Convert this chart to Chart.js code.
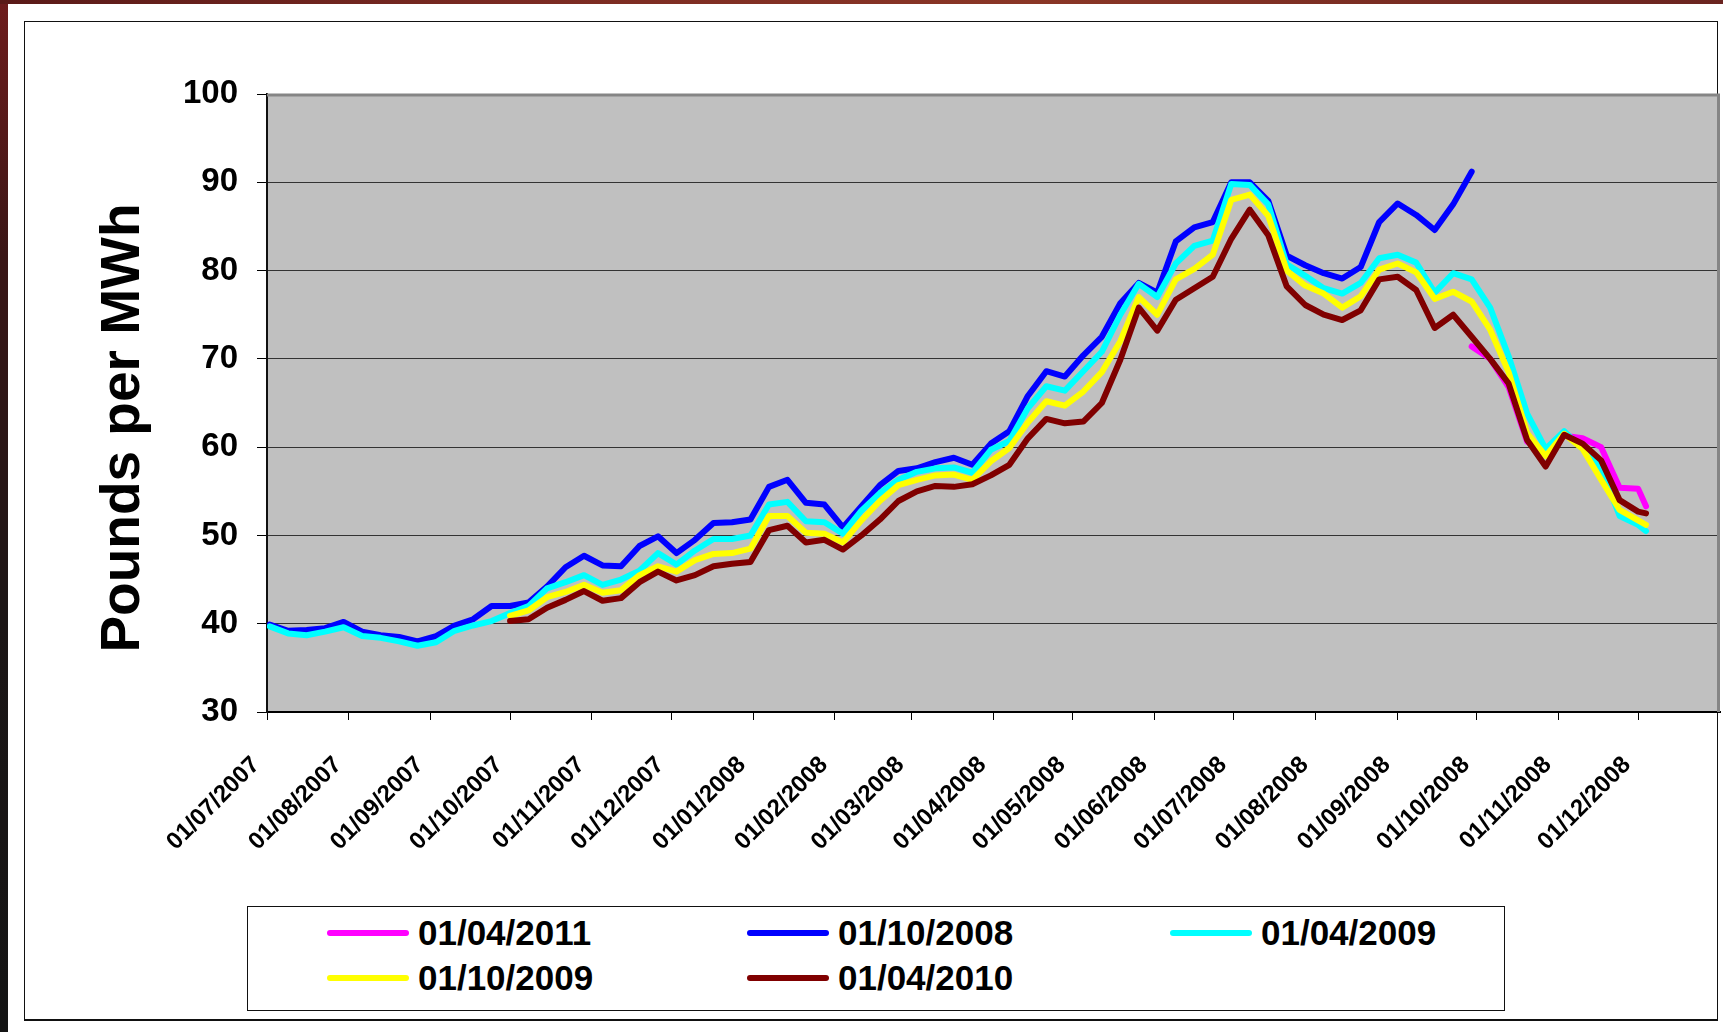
<!DOCTYPE html>
<html>
<head>
<meta charset="utf-8">
<script src="https://cdn.jsdelivr.net/npm/chart.js@4.4.1/dist/chart.umd.min.js"></script>
<style>
  html, body { margin: 0; padding: 0; }
  body {
    width: 1723px; height: 1032px; overflow: hidden; position: relative;
    background: linear-gradient(180deg, #6e1c1c 0%, #3a1616 25%, #1c1616 60%, #141414 100%);
    font-family: "Liberation Sans", Arial, sans-serif;
  }
  #topstrip { position: absolute; left: 0; top: 0; width: 1723px; height: 4px;
    background: linear-gradient(90deg, #5a1a18 0%, #7a2a22 30%, #8a3626 60%, #6a2420 100%); }
  #page { position: absolute; left: 8px; top: 4px; right: 0; bottom: 0; background: #fff; }
  #frame { position: absolute; left: 24px; top: 21px; width: 1692px; height: 997px;
    border: 1px solid #111; border-bottom: 2px solid #111; }
  #chart { position: absolute; left: 0; top: 0; }
  #legend { position: absolute; left: 247px; top: 906px; width: 1258px; height: 105px;
    border: 1px solid #111; background: #fff; box-sizing: border-box;
    display: grid; grid-template-columns: 420px 423px auto; grid-auto-rows: 45px;
    padding: 3px 0 0 79px; }
  .item { display: flex; align-items: center; font-weight: bold; font-size: 35px; color: #000; }
  .swatch { width: 82px; height: 6px; border-radius: 3px; margin-right: 9px; }
</style>
</head>
<body>
<div id="topstrip"></div>
<div id="page"></div>
<div id="frame"></div>
<canvas id="chart" width="1723" height="1032"></canvas>
<div id="legend"></div>
<script>
// trading dates (weekly samples)
const tradeDates = [
  '2007-07-02','2007-07-09','2007-07-16','2007-07-23','2007-07-30','2007-08-06','2007-08-13','2007-08-20',
  '2007-08-27','2007-09-03','2007-09-10','2007-09-17','2007-09-24','2007-10-01','2007-10-08','2007-10-15',
  '2007-10-22','2007-10-29','2007-11-05','2007-11-12','2007-11-19','2007-11-26','2007-12-03','2007-12-10',
  '2007-12-17','2007-12-24','2007-12-31','2008-01-07','2008-01-14','2008-01-21','2008-01-28','2008-02-04',
  '2008-02-11','2008-02-18','2008-02-25','2008-03-03','2008-03-10','2008-03-17','2008-03-24','2008-03-31',
  '2008-04-07','2008-04-14','2008-04-21','2008-04-28','2008-05-05','2008-05-12','2008-05-19','2008-05-26',
  '2008-06-02','2008-06-09','2008-06-16','2008-06-23','2008-06-30','2008-07-07','2008-07-14','2008-07-21',
  '2008-07-28','2008-08-04','2008-08-11','2008-08-18','2008-08-25','2008-09-01','2008-09-08','2008-09-15',
  '2008-09-22','2008-09-29','2008-10-06','2008-10-13','2008-10-20','2008-10-27','2008-11-03','2008-11-10',
  '2008-11-17','2008-11-24','2008-12-01','2008-12-04'
];

const seriesNames = ['01/04/2011', '01/10/2008', '01/04/2009', '01/10/2009', '01/04/2010'];
const seriesColors = ['#ff00ff', '#0000ff', '#00ffff', '#ffff00', '#800000'];
const drawOrder = [4, 3, 2, 1, 0]; // maroon on top

const N = null;
const apr2011 = [
  N,N,N,N,N,N,N,N,N,N,N,N,N,N,N,N,N,N,N,N,N,N,N,N,N,N,N,N,N,N,N,N,N,N,N,N,N,N,N,N,
  N,N,N,N,N,N,N,N,N,N,N,N,N,N,N,N,N,N,N,N,N,N,N,N,N,
  71.4,70.0,66.8,60.6,59.6,61.3,61.0,60.0,55.4,55.3,53.3
];
const oct2008 = [
  39.9,39.2,39.3,39.5,40.2,39.1,38.7,38.5,38.0,38.6,39.8,40.5,42.0,42.0,42.4,44.2,
  46.4,47.7,46.6,46.5,48.8,49.9,48.0,49.5,51.4,51.5,51.8,55.5,56.3,53.7,53.5,50.9,
  53.3,55.7,57.3,57.6,58.3,58.8,58.0,60.4,61.8,65.8,68.6,68.0,70.4,72.5,76.3,78.6,
  77.5,83.3,84.9,85.5,90.0,90.0,87.9,81.7,80.6,79.7,79.1,80.4,85.5,87.6,86.3,84.6,
  87.5,91.2,N,N,N,N,N,N,N,N,N,N
];
const apr2009 = [
  39.7,38.9,38.7,39.1,39.6,38.6,38.4,38.0,37.5,37.9,39.2,39.8,40.3,41.2,42.0,44.0,
  44.7,45.5,44.4,45.0,46.0,48.0,46.7,48.3,49.6,49.6,50.0,53.5,53.8,51.6,51.5,50.2,
  52.8,54.8,56.3,57.2,57.6,57.7,57.1,59.7,60.7,64.4,66.9,66.4,68.6,70.8,75.0,78.5,
  77.0,80.8,82.8,83.4,89.8,89.7,87.5,80.7,79.4,78.0,77.4,78.6,81.4,81.8,80.9,77.5,
  79.7,79.0,75.8,70.3,63.8,59.8,61.8,59.8,57.6,52.2,51.2,50.5
];
const oct2009 = [
  N,N,N,N,N,N,N,N,N,N,N,N,N,40.9,41.5,43.0,
  43.6,44.4,43.5,43.8,45.5,46.5,45.9,47.2,47.9,48.0,48.5,52.2,52.2,50.3,50.2,49.2,
  51.7,53.9,55.7,56.3,56.8,56.9,56.3,58.4,59.9,62.8,65.2,64.7,66.3,68.5,72.0,77.0,
  75.0,79.0,80.2,81.8,88.0,88.6,86.2,80.0,78.3,77.4,75.8,77.1,80.1,80.8,79.8,76.8,
  77.6,76.5,73.3,68.5,61.6,59.0,61.5,59.8,56.3,52.9,51.7,51.2
];
const apr2010 = [
  N,N,N,N,N,N,N,N,N,N,N,N,N,40.3,40.5,41.8,
  42.7,43.7,42.6,42.9,44.7,45.9,44.9,45.5,46.5,46.8,47.0,50.6,51.1,49.2,49.5,48.4,
  50.0,51.8,53.9,55.0,55.6,55.5,55.8,56.8,58.0,61.0,63.2,62.7,62.9,65.0,69.9,75.8,
  73.2,76.7,78.0,79.3,83.6,86.9,84.0,78.2,76.1,75.0,74.4,75.5,79.0,79.3,77.8,73.5,
  75.0,72.5,70.0,67.2,60.8,57.8,61.4,60.4,58.5,54.0,52.7,52.5
];
const seriesValues = [apr2011, oct2008, apr2009, oct2009, apr2010];

// x axis tick labels (first of each month)
const monthTicks = [
  '01/07/2007','01/08/2007','01/09/2007','01/10/2007','01/11/2007','01/12/2007',
  '01/01/2008','01/02/2008','01/03/2008','01/04/2008','01/05/2008','01/06/2008',
  '01/07/2008','01/08/2008','01/09/2008','01/10/2008','01/11/2008','01/12/2008'
];
const yTicks = [30, 40, 50, 60, 70, 80, 90, 100];
const axisStart = '2007-07-01';
const axisEnd = '2009-01-01';

function dayNum(iso) {
  const [y, m, d] = iso.split('-').map(Number);
  const [y0, m0, d0] = axisStart.split('-').map(Number);
  return Math.round((Date.UTC(y, m - 1, d) - Date.UTC(y0, m0 - 1, d0)) / 86400000);
}
function ukToIso(s) {
  const [d, m, y] = s.split('/');
  return y + '-' + m + '-' + d;
}
const tickDays = monthTicks.map(s => dayNum(ukToIso(s)));
const xDays = tradeDates.map(dayNum);

const datasets = seriesNames.map((name, i) => ({
  label: name,
  data: xDays.map((x, j) => ({ x: x, y: seriesValues[i][j] })),
  borderColor: seriesColors[i],
  backgroundColor: seriesColors[i],
  borderWidth: 6,
  pointRadius: 0,
  tension: 0,
  borderJoinStyle: 'round',
  borderCapStyle: 'round',
  spanGaps: false,
  order: drawOrder[i]
}));

const FONT = '"Liberation Sans", Arial, sans-serif';

const plotFrame = {
  id: 'plotFrame',
  beforeDraw(chart) {
    const { ctx, chartArea: a } = chart;
    ctx.save();
    ctx.fillStyle = '#c0c0c0';
    ctx.fillRect(a.left, a.top, a.right - a.left, a.bottom - a.top);
    ctx.restore();
  },
  beforeDatasetsDraw(chart) {
    const { ctx, chartArea: a } = chart;
    ctx.save();
    ctx.strokeStyle = '#858585';
    ctx.lineWidth = 3;
    ctx.beginPath();
    ctx.moveTo(a.left, a.top + 1);
    ctx.lineTo(a.right - 1.5, a.top + 1);
    ctx.lineTo(a.right - 1.5, a.bottom);
    ctx.stroke();
    ctx.restore();
  },
  afterDraw(chart) {
    // y axis title
    const { ctx } = chart;
    ctx.save();
    ctx.translate(124, 428);
    ctx.rotate(-Math.PI / 2);
    ctx.font = 'bold 55px ' + FONT;
    ctx.fillStyle = '#000';
    ctx.textAlign = 'center';
    ctx.textBaseline = 'middle';
    ctx.fillText('Pounds per MWh', 0, 0);
    ctx.restore();
  }
};

const chart = new Chart(document.getElementById('chart'), {
  type: 'line',
  data: { datasets: datasets },
  plugins: [plotFrame],
  options: {
    responsive: false,
    animation: false,
    devicePixelRatio: 1,
    layout: { padding: { left: 0, top: 94, right: 3, bottom: 0 } },
    plugins: { legend: { display: false }, tooltip: { enabled: false } },
    scales: {
      x: {
        type: 'linear',
        min: 0,
        max: dayNum(axisEnd),
        afterBuildTicks: s => { s.ticks = tickDays.map(v => ({ value: v })); },
        afterFit: s => { s.height = 320; },
        grid: { drawOnChartArea: false, drawTicks: true, tickLength: 8, tickColor: '#000', tickWidth: 1 },
        border: { display: true, color: '#000', width: 2 },
        ticks: {
          autoSkip: false,
          maxRotation: 45,
          minRotation: 45,
          padding: 31,
          labelOffset: -11,
          color: '#000',
          font: { family: FONT, size: 24, weight: 'bold' },
          callback: (v) => { const k = tickDays.indexOf(v); return k >= 0 ? monthTicks[k] : ''; }
        }
      },
      y: {
        min: yTicks[0],
        max: yTicks[yTicks.length - 1],
        afterBuildTicks: s => { s.ticks = yTicks.map(v => ({ value: v })); },
        afterFit: s => { s.width = 267; },
        grid: { color: '#333', lineWidth: 1, drawTicks: true, tickLength: 10, tickColor: '#000' },
        border: { display: true, color: '#111', width: 2 },
        ticks: {
          padding: 19,
          color: '#000',
          font: { family: FONT, size: 33, weight: 'bold' }
        }
      }
    }
  }
});

// legend built from the chart datasets
const legendEl = document.getElementById('legend');
chart.data.datasets.forEach(ds => {
  const item = document.createElement('div');
  item.className = 'item';
  const sw = document.createElement('span');
  sw.className = 'swatch';
  sw.style.background = ds.borderColor;
  const tx = document.createElement('span');
  tx.textContent = ds.label;
  item.appendChild(sw);
  item.appendChild(tx);
  legendEl.appendChild(item);
});
</script>
</body>
</html>
